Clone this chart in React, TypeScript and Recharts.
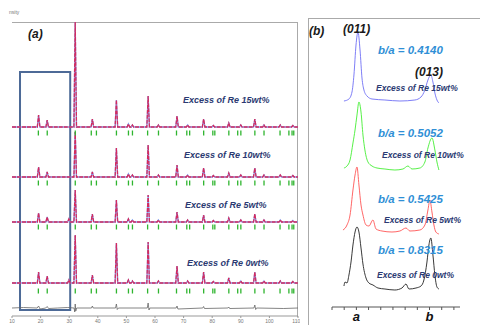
import { ComposedChart, Line, Scatter, XAxis, YAxis, ReferenceArea } from 'recharts'

// panel (a): Rietveld patterns, 2theta positions of peaks and their heights per sample
const peakPos = [19.3, 22.3, 29.9, 32.1, 38.1, 46.5, 50.7, 52.1, 57.6, 61.2, 67.7, 71.4, 77.0, 80.4, 85.8, 90.0, 94.9, 98.1, 103.8, 108.2]
const re15 = [12, 7, 0, 105, 8, 27, 3, 2, 31, 2, 11, 2, 8, 1.5, 4, 2, 8, 2, 2, 1.5]
const re10 = [10, 5, 0, 45, 5, 29, 3, 2, 32, 2, 12, 2, 9, 1.5, 4, 2, 9, 2, 2, 1.5]
const re5 = [9, 5, 3, 32, 8, 22, 3, 2, 27, 2, 10, 2, 7, 1.5, 4, 2, 8, 2, 2, 1.5]
const re0 = [11, 7, 3, 48, 8, 40, 3, 2, 41, 2, 17, 2, 11, 1.5, 5, 2, 11, 2, 2, 1.5]
const baselines = [189, 139, 94, 33]
const braggRows = [183, 133, 89, 25]
const braggPos = [19.2, 22.3, 32.1, 37.7, 39.5, 46.5, 50.7, 52.1, 57.4, 61.2, 67.5, 71.1, 72.1, 77.0, 80.2, 80.9, 85.8, 88.9, 90.0, 94.9, 98.1, 103.7, 106.8, 107.9, 108.5]
const diffCurve = [
    [10, 8], [14, 8.5], [18.8, 8], [19.3, 10], [19.8, 7], [21.8, 8], [22.3, 9.5], [22.8, 7.5], [26, 8], [29.5, 8.5],
    [31.7, 8], [31.95, 4], [32.1, 12], [32.3, 5], [32.6, 8], [37.8, 8], [38.1, 10], [38.4, 8], [46.2, 8], [46.5, 12],
    [46.8, 6.5], [47.2, 8], [57.3, 8], [57.6, 13], [57.9, 6], [58.2, 8], [67.4, 8], [67.7, 10], [68, 7], [76.7, 8],
    [77, 9.5], [77.3, 7.5], [85.5, 8], [85.8, 9], [86.1, 7.5], [94.6, 8], [94.9, 11], [95.2, 6.5], [95.5, 8], [105, 7.5], [110, 8],
]
const xTicksA = [10, 20, 30, 40, 50, 60, 70, 80, 90, 100, 110]
const labelsA = ['Excess of Re 15wt%', 'Excess of Re 10wt%', 'Excess of Re 5wt%', 'Excess of Re 0wt%']

// panel (b): zoom on (011)/(013), x in arbitrary units (a = 2, b = 8)
const blue15 = [
    [0.98, 206], [1.39, 208], [1.64, 215], [1.8, 232], [1.97, 262], [2.13, 275], [2.3, 257], [2.46, 229], [2.62, 217],
    [2.87, 211], [3.28, 208], [4.34, 207], [5.57, 206], [6.8, 207], [7.3, 210], [7.62, 217], [7.87, 227], [8.11, 232],
    [8.28, 225], [8.44, 214], [8.61, 207], [8.77, 204],
]
const green10 = [
    [0.98, 139], [1.23, 141], [1.48, 147], [1.72, 164], [1.89, 177], [2.05, 192], [2.21, 205], [2.38, 195], [2.54, 172],
    [2.7, 157], [2.95, 145], [3.28, 141], [3.69, 139], [4.34, 138], [5.16, 137], [5.82, 138], [6.23, 141], [6.56, 138],
    [7.21, 139], [7.62, 145], [7.87, 159], [8.2, 169], [8.44, 157], [8.61, 145], [8.77, 137],
]
const red5 = [
    [0.9, 77], [1.23, 82], [1.48, 92], [1.72, 117], [1.89, 132], [2.05, 140], [2.21, 122], [2.38, 102], [2.54, 92],
    [2.79, 82], [3.03, 81], [3.36, 87], [3.61, 78], [4.1, 76], [4.92, 75], [5.57, 76], [6.07, 79], [6.39, 76],
    [7.21, 77], [7.62, 82], [7.87, 97], [8.03, 107], [8.2, 95], [8.36, 82], [8.52, 75], [8.77, 73],
]
const black0 = [
    [0.98, 21], [1.07, 25], [1.23, 24], [1.39, 32], [1.56, 45], [1.72, 62], [1.89, 75], [2.05, 80], [2.21, 75],
    [2.38, 59], [2.54, 43], [2.79, 29], [3.03, 24], [3.36, 22], [3.77, 19], [4.34, 18], [5.16, 17], [5.74, 19],
    [6.07, 23], [6.31, 18], [6.89, 19], [7.3, 21], [7.54, 27], [7.79, 45], [7.95, 62], [8.11, 69], [8.28, 52],
    [8.44, 32], [8.61, 20], [8.77, 18],
]
const ratios = ['b/a = 0.4140', 'b/a = 0.5052', 'b/a = 0.5425', 'b/a = 0.8315']

const FONT = '"Liberation Sans", Arial, sans-serif'

const toPts = (arr: number[][]) => arr.map(([x, y]) => ({ x, y }))

const pattern = (heights: number[], base: number) => {
    const pts = [{ x: 10, y: base }]
    peakPos.forEach((p, i) => {
        if (!heights[i]) return
        pts.push({ x: p - 0.45, y: base }, { x: p, y: base + heights[i] }, { x: p + 0.45, y: base })
    })
    pts.push({ x: 110, y: base })
    return pts
}

const patterns = [re15, re10, re5, re0].map((h, i) => pattern(h, baselines[i]))
const braggData = braggRows.flatMap((row) => braggPos.map((x) => ({ x, y: row })))
const yTicksA = Array.from({ length: 37 }, (_, i) => i * 8)
const yTicksB = Array.from({ length: 21 }, (_, i) => i * 14)
const xTicksB = [0, 1, 2, 3, 4, 5, 6, 7, 8, 9, 10]
const blank = () => ''

const BraggTick = (props: any) => (
    <rect x={props.cx - 0.6} y={props.cy - 2.5} width={1.3} height={5} fill="#2fb52f" />
)

const PanelA = () => (
    <ComposedChart width={300} height={325} margin={{ top: 22, left: 12, right: 2, bottom: 0 }}>
        <XAxis
            type="number"
            dataKey="x"
            domain={[10, 110]}
            ticks={xTicksA}
            allowDataOverflow
            height={9}
            tickSize={2}
            tickMargin={1}
            stroke="#999"
            tick={{ fontSize: 5, fill: '#777', fontFamily: FONT }}
        />
        <YAxis
            type="number"
            dataKey="y"
            domain={[0, 294]}
            ticks={yTicksA}
            allowDataOverflow
            width={0}
            tickSize={2}
            tickFormatter={blank}
            stroke="#888"
        />
        <ReferenceArea x1={12.8} x2={30.35} y1={6} y2={244} fill="none" stroke="#4d6a97" strokeWidth={2} ifOverflow="visible" />
        <Line data={toPts(diffCurve)} dataKey="y" type="linear" stroke="#666" strokeWidth={0.8} dot={false} isAnimationActive={false} />
        {patterns.map((d, i) => (
            <Line key={`calc-${i}`} data={d} dataKey="y" type="linear" stroke="#7f9ff0" strokeWidth={1.3} dot={false} isAnimationActive={false} />
        ))}
        {patterns.map((d, i) => (
            <Line
                key={`obs-${i}`}
                data={d}
                dataKey="y"
                type="linear"
                stroke="#d42a5e"
                strokeWidth={1.3}
                strokeDasharray="4 1"
                dot={false}
                isAnimationActive={false}
            />
        ))}
        <Scatter data={braggData} shape={BraggTick} isAnimationActive={false} />
    </ComposedChart>
)

const PanelB = () => (
    <ComposedChart width={180} height={325} margin={{ top: 25, left: 32, right: 20, bottom: 0 }}>
        <XAxis
            type="number"
            dataKey="x"
            domain={[0, 10.5]}
            ticks={xTicksB}
            height={18}
            tickSize={3}
            stroke="#555"
            tickFormatter={(v: number) => (v === 2 ? 'a' : v === 8 ? 'b' : '')}
            tick={{ fontSize: 13, fill: '#111', fontWeight: 700, fontStyle: 'italic', fontFamily: FONT }}
        />
        <YAxis type="number" dataKey="y" domain={[0, 282]} ticks={yTicksB} width={0} tickSize={2} tickFormatter={blank} stroke="#555" />
        <Line data={toPts(black0)} dataKey="y" type="monotone" stroke="#222" strokeWidth={0.9} dot={false} isAnimationActive={false} />
        <Line data={toPts(red5)} dataKey="y" type="monotone" stroke="#ff5555" strokeWidth={0.9} dot={false} isAnimationActive={false} />
        <Line data={toPts(green10)} dataKey="y" type="monotone" stroke="#44ee33" strokeWidth={0.9} dot={false} isAnimationActive={false} />
        <Line data={toPts(blue15)} dataKey="y" type="monotone" stroke="#6f6ff5" strokeWidth={0.9} dot={false} isAnimationActive={false} />
    </ComposedChart>
)

const labelStyle = { fontFamily: FONT, fontWeight: 700, fontStyle: 'italic' } as const

export default function App() {
    const aLabelY = [103, 158, 208, 266]
    const aLabelX = [183, 184, 185, 187]
    const ratioY = [54, 137, 203, 254]
    const excessBY = [91, 158, 223, 278]
    const excessBX = [376, 382, 384, 377]
    return (
        <div style={{ position: 'absolute', left: 0, top: 0, width: 480, height: 325, background: '#fff', overflow: 'hidden' }}>
            <div style={{ position: 'absolute', left: 308, top: 18, width: 200, height: 330, borderLeft: '1px solid #aaa', borderTop: '1px solid #aaa' }} />
            <div style={{ position: 'absolute', left: 12, top: 22, width: 285, height: 294, borderTop: '1px solid #aaa', borderRight: '1px solid #aaa' }} />
            <div style={{ position: 'absolute', left: 0, top: 0 }}>
                <PanelA />
            </div>
            <div style={{ position: 'absolute', left: 300, top: 0 }}>
                <PanelB />
            </div>
            <svg width={480} height={325} style={{ position: 'absolute', left: 0, top: 0, pointerEvents: 'none' }}>
                <text x={9} y={14} fontSize={5} fill="#777" fontFamily={FONT}>nsity</text>
                <text x={28} y={38} fontSize={12} fill="#1a1a1a" {...labelStyle}>(a)</text>
                {labelsA.map((t, i) => (
                    <text key={t} x={aLabelX[i]} y={aLabelY[i]} fontSize={9} fill="#2b3a72" {...labelStyle}>{t}</text>
                ))}
                <text x={309} y={35} fontSize={12} fill="#1a1a1a" {...labelStyle}>(b)</text>
                <text x={343} y={33} fontSize={12} fill="#1a1a1a" {...labelStyle}>(011)</text>
                <text x={415} y={76} fontSize={12} fill="#1a1a1a" {...labelStyle}>(013)</text>
                {ratios.map((t, i) => (
                    <text key={t} x={378} y={ratioY[i]} fontSize={11.5} fill="#2f8fd6" {...labelStyle}>{t}</text>
                ))}
                {labelsA.map((t, i) => (
                    <text key={`b-${t}`} x={excessBX[i]} y={excessBY[i]} fontSize={8.5} fill="#2b3a72" {...labelStyle}>{t}</text>
                ))}
            </svg>
        </div>
    )
}
